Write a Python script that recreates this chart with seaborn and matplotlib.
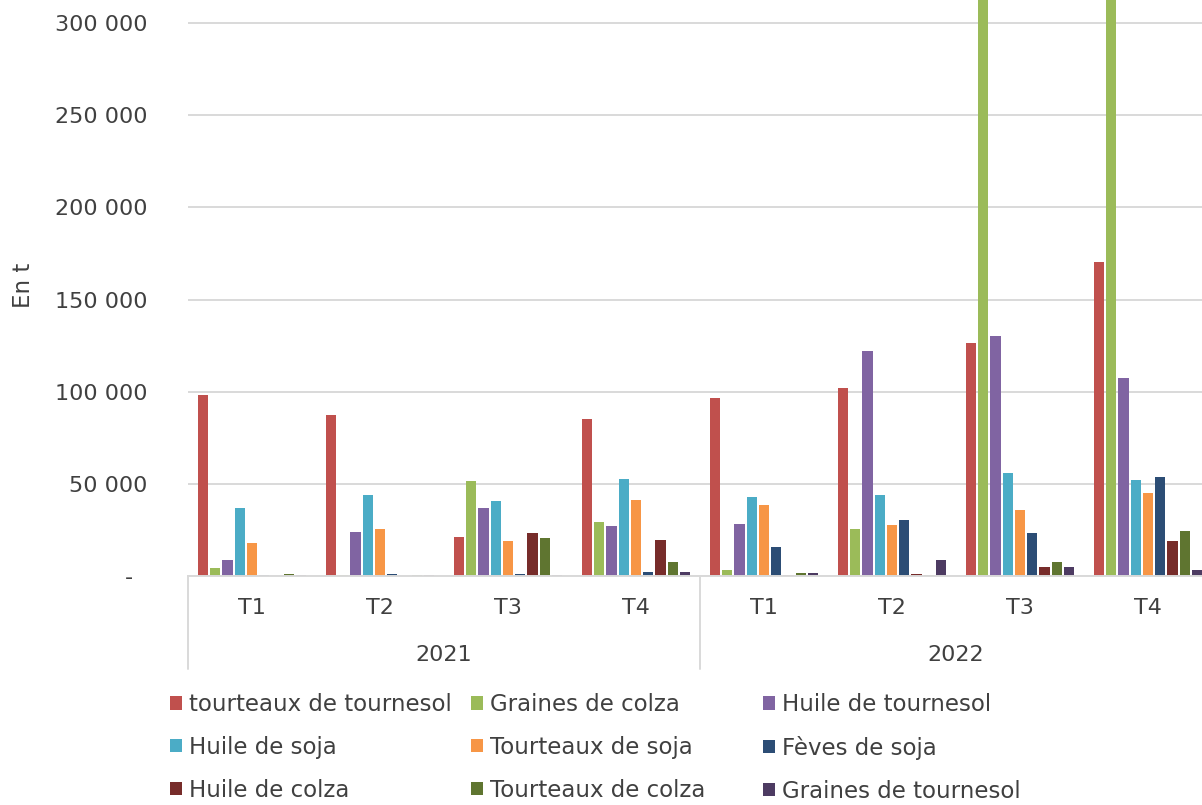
import matplotlib
matplotlib.use("Agg")
import matplotlib.pyplot as plt
import matplotlib.transforms as mtransforms
from matplotlib.ticker import FuncFormatter, MultipleLocator
import numpy as np
import pandas as pd
import seaborn as sns

# Quarterly volumes (tonnes), 2021 T1..T4 then 2022 T1..T4
years = ["2021", "2022"]
quarters = ["T1", "T2", "T3", "T4"]
periods = [f"{y} {q}" for y in years for q in quarters]

products = [
    "tourteaux de tournesol", "Graines de colza", "Huile de tournesol",
    "Huile de soja", "Tourteaux de soja", "Fèves de soja",
    "Huile de colza", "Tourteaux de colza", "Graines de tournesol",
]

tourteaux_tournesol = [98500, 87200, 21000, 85400, 96600, 102000, 126600, 170600]
graines_colza       = [4300, 300, 51300, 29200, 3300, 25500, 340000, 380000]
huile_tournesol     = [8700, 23700, 36700, 27400, 28200, 121900, 130400, 107300]
huile_soja          = [37000, 44200, 40800, 52400, 43000, 44200, 55800, 52000]
tourteaux_soja      = [18000, 25500, 19000, 41200, 38800, 27600, 35800, 44800]
feves_soja          = [500, 1000, 1200, 2000, 15900, 30300, 23100, 53500]
huile_colza         = [200, 100, 23100, 19300, 500, 1000, 4700, 19000]
tourteaux_colza     = [1000, 300, 20400, 7400, 1700, 300, 7600, 24400]
graines_tournesol   = [500, 800, 300, 2300, 1700, 8700, 4700, 3400]

series = [tourteaux_tournesol, graines_colza, huile_tournesol, huile_soja,
          tourteaux_soja, feves_soja, huile_colza, tourteaux_colza,
          graines_tournesol]

colors = ["#C0504D", "#9BBB59", "#8064A2", "#4BACC6", "#F79646",
          "#2C4D75", "#772C2A", "#5F7530", "#4D3B62"]

df = pd.DataFrame(
    [(p, prod, v) for prod, vals in zip(products, series) for p, v in zip(periods, vals)],
    columns=["periode", "produit", "volume"],
)

text_color = "#404040"
grid_color = "#D9D9D9"

sns.set_theme(style="white")
plt.rcParams["font.family"] = ["DejaVu Sans"]

fig = plt.figure(figsize=(12.02, 8.05), dpi=100)
ax = fig.add_axes([188 / 1202, 229 / 805, 1024 / 1202, 576 / 805])

sns.barplot(
    data=df, x="periode", y="volume", hue="produit",
    order=periods, hue_order=products, palette=colors, saturation=1,
    width=0.86, gap=0.17, linewidth=0, errorbar=None, ax=ax,
)

# legend handles from seaborn, laid out below in three columns
handles = ax.legend_.legend_handles
labels = [t.get_text() for t in ax.legend_.texts]
ax.legend_.remove()

ax.set_xlim(-0.5, 7.5)
ax.set_ylim(0, 312600)
ax.yaxis.set_major_locator(MultipleLocator(50000))
ax.yaxis.set_major_formatter(FuncFormatter(
    lambda v, _: "-  " if v == 0 else f"{int(v):,}".replace(",", " ")))
ax.grid(axis="y", color=grid_color, linewidth=1.4)
ax.set_axisbelow(True)

for s in ["left", "right", "top"]:
    ax.spines[s].set_visible(False)
ax.spines["bottom"].set_color(grid_color)
ax.spines["bottom"].set_linewidth(1.4)

ax.set_xticks(range(len(periods)))
ax.set_xticklabels([q for _ in years for q in quarters])
ax.tick_params(axis="x", length=0, pad=16, labelsize=16, labelcolor=text_color)
ax.tick_params(axis="y", length=0, pad=29, labelsize=16, labelcolor=text_color)

ax.set_xlabel("")
ax.set_ylabel("En t", fontsize=16.5, color=text_color)
ax.yaxis.set_label_coords(-0.149, 0.505)

# year level of the category axis, with separators
trans = mtransforms.blended_transform_factory(ax.transData, ax.transAxes)
for i, y in enumerate(years):
    ax.text(i * 4 + 1.5, -0.137, y, transform=trans, ha="center", va="center",
            fontsize=16, color=text_color)
for xb in [-0.5, 3.5, 7.5]:
    ax.plot([xb, xb], [0, -0.161], transform=trans, color=grid_color,
            linewidth=1.4, clip_on=False)

# three legend columns (row-major order of the entries)
col_x = [170, 471, 763]
for c in range(3):
    idx = [c, c + 3, c + 6]
    leg = fig.legend(
        [handles[i] for i in idx], [labels[i] for i in idx],
        loc="upper left", bbox_to_anchor=(col_x[c] / 1202, 112 / 805),
        bbox_transform=fig.transFigure, frameon=False, fontsize=16.5,
        handlelength=0.52, handleheight=0.52, handletextpad=0.3,
        labelspacing=0.87, borderpad=0, borderaxespad=0,
    )
    for t in leg.get_texts():
        t.set_color(text_color)

fig.savefig("out.png", dpi=100)
